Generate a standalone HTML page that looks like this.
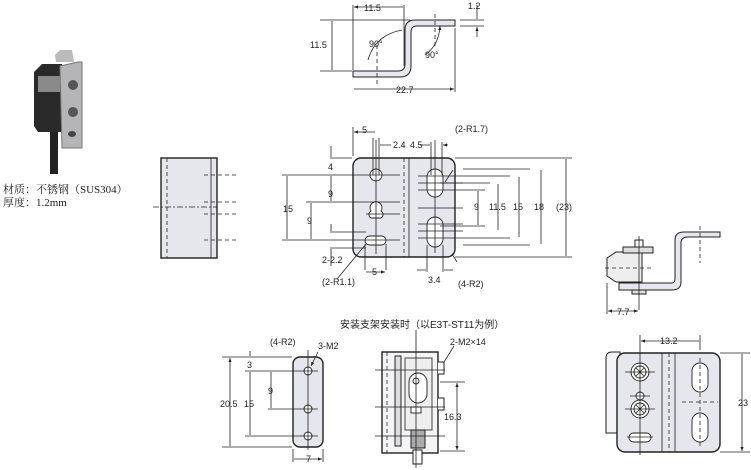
<!DOCTYPE html>
<html><head><meta charset="utf-8"><style>
body{margin:0;background:#fff}
svg{display:block}
text{font-family:"Liberation Sans","Noto Sans CJK SC",sans-serif;font-size:9px;fill:#222}
.d{stroke:#222;stroke-width:0.8;fill:none}
.c{stroke:#222;stroke-width:0.8;fill:none;stroke-dasharray:6,2,2,2}
.h{stroke:#222;stroke-width:0.8;fill:none;stroke-dasharray:4,3}
.p{fill:#e6e7ec;stroke:#222;stroke-width:1.4}
.w{fill:#fff;stroke:#222;stroke-width:0.9}
</style></head><body>
<svg width="751" height="470" viewBox="0 0 751 470" xmlns="http://www.w3.org/2000/svg">
<defs><marker id="a" markerWidth="6" markerHeight="6" refX="5" refY="3" orient="auto-start-reverse"><path d="M0,1 L5,3 L0,5 z" fill="#222"/></marker></defs>
<g id="photo">
<path d="M55,55 L60,50 H72 L74,62 H56 Z" fill="#bbb"/>
<path d="M34,72 L42,64 H62 V132 H38 L34,126 Z" fill="#2a2a2a"/>
<rect x="38" y="76" width="22" height="16" fill="#8a8a8a"/>
<path d="M60,66 L78,62 H82 V148 H62 Z" fill="#b5b5b8" stroke="#777"/>
<circle cx="73" cy="85" r="5" fill="#555"/><circle cx="73" cy="112" r="5" fill="#555"/><ellipse cx="72" cy="134" rx="4" ry="3" fill="#444"/>
<rect x="50" y="132" width="8" height="42" fill="#222"/>
</g>
<text x="3" y="193" style="font-family:'Liberation Serif','Noto Serif CJK SC',serif;font-size:11px">材质：不锈钢（SUS304）</text>
<text x="3" y="206" style="font-family:'Liberation Serif','Noto Serif CJK SC',serif;font-size:11px">厚度：1.2mm</text>

<!-- top bracket -->
<path class="p" d="M353,71 H398 Q405,71 405,64 V30 Q405,20 415,20 H455 V26 H417 Q411,26 411,32 V66 Q411,77 400,77 H353 Z" style="stroke-width:1"/>
<path class="d" d="M353,5 V70 M404,5 V66 M455,28 V92 M320,20 H410 M320,71 H352 M460,20 H484 M460,26 H484"/>
<path class="d" marker-start="url(#a)" marker-end="url(#a)" d="M354,7 H403 M332,21 V70 M354,89 H454"/>
<path class="d" marker-end="url(#a)" d="M477,5 V19 M477,37 V27"/>
<path class="h" d="M377,45 V84 M435,14 V47"/>
<path class="d" marker-end="url(#a)" d="M368,60 Q375,35 402,30 M425,55 Q439,45 440,26"/>
<text x="364" y="11">11.5</text><text x="468" y="9">1.2</text><text x="310" y="48">11.5</text>
<text x="369" y="47">90°</text><text x="425" y="58">90°</text><text x="396" y="93">22.7</text>

<!-- side view -->
<rect x="161" y="158" width="56" height="100" class="p"/>
<path class="h" d="M167,158 V258"/><path class="d" d="M211,158 V258"/>
<path class="h" d="M204,175 H239 M204,202 H239 M204,214 H239 M204,240 H239"/>
<path class="c" d="M153,207 H217"/>

<!-- main front -->
<rect x="353" y="158" width="102" height="99" rx="8" class="p"/>
<path class="h" d="M404,158 V257"/><path class="d" d="M409,158 V257"/>
<circle cx="376" cy="175" r="6" class="w"/>
<path class="w" d="M371,211 A6,6 0 1 1 381,211 A4,4 0 0 1 381,218 H371 A4,4 0 0 1 371,211 Z"/>
<rect x="365" y="236" width="21" height="9" rx="4.5" class="w"/>
<rect x="427" y="169" width="16" height="28" rx="8" class="w"/>
<rect x="427" y="217" width="16" height="30" rx="8" class="w"/>
<path class="d" d="M376,140 V254 M366,175 H400 M366,202 H400 M366,214 H400 M366,240 H400 M370,175 H382 M371,202 H381 M371,214 H381 M370,240 H382"/>
<path class="d" d="M435,140 V253 M418,176 H463 M418,183 H463 M418,190 H463 M418,208 H463 M418,224 H463 M418,231 H463 M418,238 H463"/>
<path class="d" d="M353,127 V156 M373,138 V175 M379,138 V175 M431,142 V175 M442,142 V175 M330,175 H366 M282,175 H366 M306,202 H366 M282,240 H366 M330,158 H352 M330,232 H366 M330,248 H366 M440,183 H490 M463,190 H485 M440,226 H485 M463,176 H510 M463,238 H510 M463,169 H530 M463,245 H530 M455,158 H572 M455,257 H572 M365,244 V270 M386,244 V270 M427,245 V272 M443,245 V272"/>
<path class="d" marker-start="url(#a)" marker-end="url(#a)" d="M354,132 H375 M287,176 V239 M311,203 V239 M331,176 V201 M478,191 V225 M498,184 V230 M519,177 V237 M541,170 V244 M566,159 V256 M366,272 H385"/>
<path class="d" marker-end="url(#a)" d="M391,145 H380 M420,145 H430 M331,146 V157 M331,266 V249 M331,224 V231 M453,270 H444 M417,270 H426 M448,145 H443"/>
<text x="362" y="133">5</text><text x="393" y="148">2.4</text><text x="410" y="148">4.5</text><text x="455" y="132">(2-R1.7)</text>
<text x="328" y="170">4</text><text x="328" y="197">9</text><text x="283" y="212">15</text><text x="307" y="224">9</text>
<text x="474" y="210">9</text><text x="489" y="210">11.5</text><text x="513" y="210">15</text><text x="534" y="210">18</text><text x="556" y="210">(23)</text>
<text x="322" y="263">2-2.2</text><text x="372" y="275">5</text><text x="428" y="283">3.4</text><text x="322" y="285">(2-R1.1)</text><text x="458" y="287">(4-R2)</text>
<path class="d" d="M453,170 L445,182 M457,262 L452,254 M337,279 L366,244"/>

<!-- right side view -->
<path class="p" d="M619,283 H672 Q675,283 675,278 V240 Q675,232 684,232 H720 V237 H688 Q681,237 681,243 V282 Q681,290 672,290 H619 Z" style="stroke-width:1"/>
<path d="M607,258 L616,252 H642 V282 H616 L607,276 Z" fill="#eee" stroke="#222"/>
<rect x="623" y="247" width="30" height="6" fill="#ddd" stroke="#222"/>
<rect x="635" y="240" width="8" height="7" fill="#fff" stroke="#222"/>
<path d="M632,290 h14 v4 h-14 z" fill="#ddd" stroke="#222"/>
<path class="h" d="M605,268 H652 M700,226 V263"/><path class="d" d="M639,236 V310 M607,283 V314"/>
<path class="d" marker-start="url(#a)" marker-end="url(#a)" d="M608,311 H638"/>
<text x="617" y="315">7.7</text>

<text x="340" y="328" style="font-size:10px">安装支架安装时（以E3T-ST11为例）</text>

<!-- bottom left -->
<rect x="293" y="357" width="30" height="90" rx="7" class="p"/>
<circle cx="308" cy="371" r="4" class="w"/><circle cx="308" cy="409" r="4" class="w"/><circle cx="308" cy="436" r="4" class="w"/>
<path class="d" d="M308,350 V450 M300,371 H318 M300,409 H318 M300,436 H318 M222,357 H292 M245,371 H300 M268,409 H300 M245,436 H300 M222,447 H292 M293,449 V462 M323,449 V462"/>
<path class="d" marker-start="url(#a)" marker-end="url(#a)" d="M230,358 V446 M250,372 V435 M271,372 V408 M294,459 H322"/>
<path class="d" marker-end="url(#a)" d="M250,351 V356 M318,352 L311,366"/>
<text x="270" y="345">(4-R2)</text><text x="318" y="349">3-M2</text><text x="247" y="368">3</text><text x="268" y="394">9</text><text x="244" y="407">15</text><text x="220" y="407">20.5</text><text x="306" y="462">7</text>

<!-- bottom middle -->
<rect x="382" y="352" width="56" height="101" fill="#f4f4f6" stroke="#222" stroke-width="1.4"/>
<path class="h" d="M387,352 V453"/>
<rect x="395" y="356" width="6" height="90" fill="#ddd" stroke="#222"/>
<path d="M405,358 H432 V430 H405 Z" fill="#eee" stroke="#444"/>
<rect x="409" y="373" width="18" height="30" rx="9" class="w"/><circle cx="416" cy="381" r="3" class="w"/>
<rect x="411" y="407" width="10" height="6" class="w"/>
<rect x="411" y="430" width="14" height="18" fill="#aaa" stroke="#222"/>
<rect x="413" y="450" width="9" height="14" fill="#fff" stroke="#222"/>
<path d="M438,362 h6 v12 h-6 M438,398 h6 v12 h-6" fill="#fff" stroke="#222"/>
<path class="d" d="M416,330 V468 M440,382 H465 M440,451 H465 M375,370 H445 M375,407 H445 M375,436 H445"/>
<path class="d" marker-start="url(#a)" marker-end="url(#a)" d="M457,383 V450"/>
<path class="d" d="M444,362 L454,346"/>
<text x="450" y="345">2-M2×14</text><text x="444" y="420">16.3</text>

<!-- bottom right -->
<path d="M606,358 Q606,352 612,352 H620 V433 H606 Z" fill="#f4f4f6" stroke="#222"/>
<rect x="617" y="353" width="103" height="99" rx="8" class="p"/>
<path class="d" d="M662,353 V452 M675,353 V452"/><path class="h" d="M669,353 V452"/>
<circle cx="640" cy="372" r="9" class="w"/><circle cx="640" cy="372" r="6" class="w"/>
<circle cx="640" cy="409" r="9" class="w"/><circle cx="640" cy="409" r="6" class="w"/>
<circle cx="640" cy="396" r="4" class="w"/>
<rect x="629" y="433" width="22" height="9" rx="4.5" class="w"/>
<rect x="692" y="363" width="16" height="29" rx="8" class="w"/><rect x="692" y="413" width="16" height="29" rx="8" class="w"/>
<path class="d" d="M640,335 V455 M625,372 H655 M625,409 H655 M630,396 H650 M627,437 H653 M636,368 l8,8 M644,368 l-8,8 M636,405 l8,8 M644,405 l-8,8 M700,335 V350 M720,353 H750 M720,452 H750"/>
<path class="h" d="M700,358 V448 M682,402 H718"/>
<path class="d" marker-start="url(#a)" marker-end="url(#a)" d="M641,341 H699 M742,354 V451"/>
<text x="660" y="344">13.2</text><text x="738" y="406">23</text>
</svg>
</body></html>
